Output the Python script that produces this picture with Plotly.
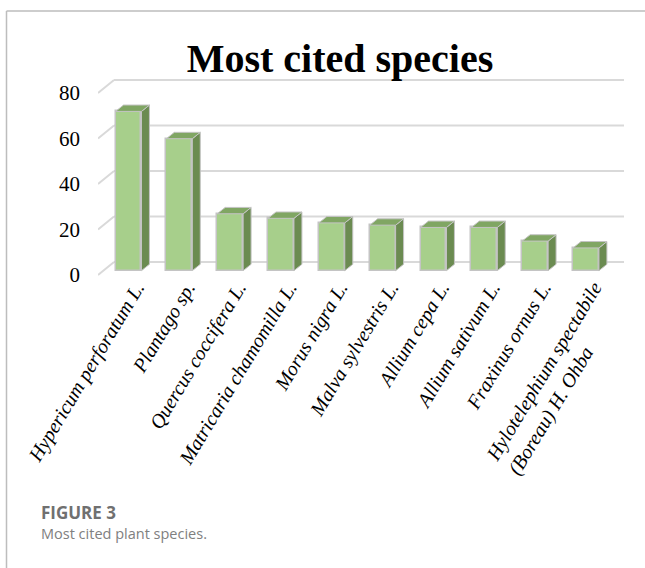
import plotly.graph_objects as go

# ---------------- data ----------------
species = [
    "Hypericum perforatum L.",
    "Plantago sp.",
    "Quercus coccifera L.",
    "Matricaria chamomilla L.",
    "Morus nigra L.",
    "Malva sylvestris L.",
    "Allium cepa L.",
    "Allium sativum L.",
    "Fraxinus ornus L.",
    "Hylotelephium spectabile<br>(Boreau) H. Ohba" + "\u00a0" * 12,
]
citations = [70, 58, 25, 23, 21, 20, 19, 19, 13, 10]
y_ticks = [0, 20, 40, 60, 80]
y_tick_text = ["0", "20", "40", "60", "80"]

# ---------------- geometry / style ----------------
X_RANGE = [-0.6, 9.748]
Y_RANGE = [-4.4, 90.1]
BAR_FLOOR = 1.9          # bars stand a bit behind the front floor edge
BAR_W = 0.51
SIDE_DX = 0.157          # 3-D depth of a bar (x, category units)
SIDE_DY = 2.8            # 3-D depth of a bar (y, value units)
BACK_DX = 0.315          # depth of the back wall
BACK_DY = 5.7

FRONT = "#a7cf8b"
SIDE = "#6b8b51"
TOP = "#80a663"
EDGE = "#c4c4c4"
GRID = "#d9d9d9"

idx = list(range(len(species)))

fig = go.Figure()

# front faces
fig.add_trace(go.Bar(
    x=idx, y=citations, base=[BAR_FLOOR] * len(idx), width=BAR_W,
    marker=dict(color=FRONT, line=dict(color=EDGE, width=1.5)),
    hoverinfo="skip", showlegend=False,
))

# side faces & top faces
side_x, side_y, top_x, top_y = [], [], [], []
for i, v in zip(idx, citations):
    xr = i + BAR_W / 2
    xl = i - BAR_W / 2
    b = BAR_FLOOR
    side_x += [xr, xr + SIDE_DX, xr + SIDE_DX, xr, xr, None]
    side_y += [b, b + SIDE_DY, b + v + SIDE_DY, b + v, b, None]
    top_x += [xl, xr, xr + SIDE_DX, xl + SIDE_DX, xl, None]
    top_y += [b + v, b + v, b + v + SIDE_DY, b + v + SIDE_DY, b + v, None]

fig.add_trace(go.Scatter(
    x=side_x, y=side_y, mode="lines", fill="toself", fillcolor=SIDE,
    line=dict(color=EDGE, width=1), hoverinfo="skip", showlegend=False,
))
fig.add_trace(go.Scatter(
    x=top_x, y=top_y, mode="lines", fill="toself", fillcolor=TOP,
    line=dict(color=EDGE, width=1), hoverinfo="skip", showlegend=False,
))

# back-wall gridlines and the floor diagonals (below the bars)
for t in y_ticks:
    fig.add_shape(type="line", xref="x", yref="y", layer="below",
                  x0=X_RANGE[0] + BACK_DX, x1=X_RANGE[1],
                  y0=t + BACK_DY, y1=t + BACK_DY,
                  line=dict(color=GRID, width=2))
    fig.add_shape(type="line", xref="x", yref="y", layer="below",
                  x0=X_RANGE[0], x1=X_RANGE[0] + BACK_DX,
                  y0=t, y1=t + BACK_DY,
                  line=dict(color=GRID, width=2))

# ---------------- layout ----------------
ML, MR, MT, MB = 98, 21, 70, 283
W, H = 645, 568
PW, PH = W - ML - MR, H - MT - MB


def px_x(px):
    return (px - ML) / PW


def px_y(py):
    return (H - MB - py) / PH


fig.update_layout(
    width=W, height=H,
    margin=dict(l=ML, r=MR, t=MT, b=MB, pad=0),
    paper_bgcolor="white", plot_bgcolor="white",
    bargap=0,
    title=dict(
        text="<b>Most cited species</b>",
        font=dict(family="Liberation Serif", size=40, color="black"),
        x=340 / W, xanchor="center", xref="container",
        y=1 - 58 / H, yanchor="middle", yref="container",
    ),
    xaxis=dict(
        range=X_RANGE, tickmode="array", tickvals=idx, ticktext=species,
        tickangle=-59, showgrid=False, zeroline=False, showline=False,
        ticks="", ticklabelshift=8, ticklabelstandoff=-14,
        tickfont=dict(family="Liberation Serif", size=20, color="black",
                      style="italic"),
    ),
    yaxis=dict(
        range=Y_RANGE, tickmode="array", tickvals=y_ticks,
        ticktext=y_tick_text, showgrid=False, zeroline=False,
        showline=False, ticks="", ticklabelstandoff=17,
        tickfont=dict(family="Liberation Serif", size=21, color="black"),
    ),
    showlegend=False,
)

# caption
fig.add_annotation(
    text="<b>FIGURE 3</b>", xref="paper", yref="paper",
    x=px_x(39), y=px_y(512), xanchor="left", yanchor="middle",
    showarrow=False,
    font=dict(family="Open Sans", size=17, color="#707070"),
)
fig.add_annotation(
    text="Most cited plant species.", xref="paper", yref="paper",
    x=px_x(39), y=px_y(533), xanchor="left", yanchor="middle",
    showarrow=False,
    font=dict(family="Open Sans", size=14.5, color="#808080"),
)

# card frame (top and left edges)
fig.add_shape(type="line", xref="paper", yref="paper",
              x0=px_x(6.5), x1=px_x(W + 5), y0=px_y(11), y1=px_y(11),
              line=dict(color="#bdbdbd", width=1.5))
fig.add_shape(type="line", xref="paper", yref="paper",
              x0=px_x(6.5), x1=px_x(6.5), y0=px_y(11), y1=px_y(H + 5),
              line=dict(color="#bdbdbd", width=1.5))

fig.write_html("out.html")
